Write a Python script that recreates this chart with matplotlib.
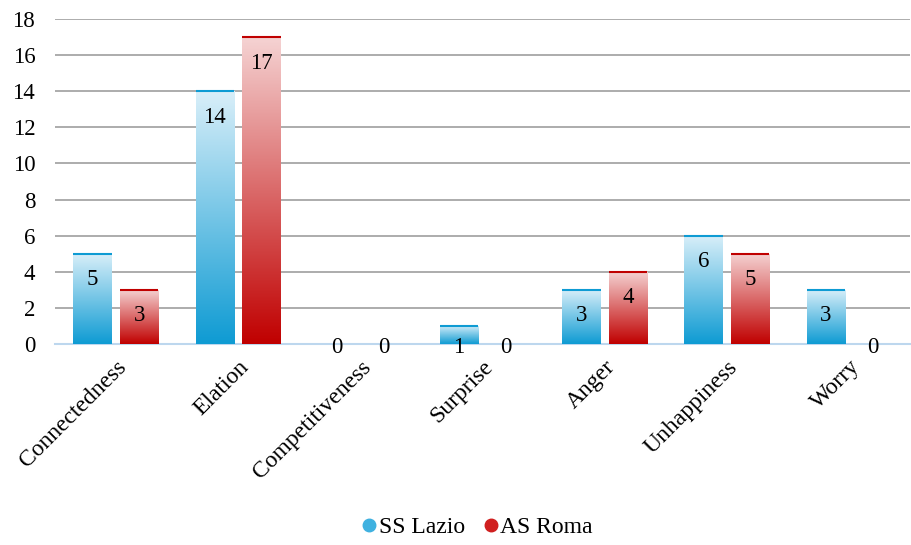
import numpy as np
import matplotlib.pyplot as plt
from matplotlib.colors import LinearSegmentedColormap
from matplotlib.lines import Line2D

plt.rcParams['font.family'] = ['Liberation Serif', 'DejaVu Serif']

# Data
categories = ['Connectedness', 'Elation', 'Competitiveness', 'Surprise',
              'Anger', 'Unhappiness', 'Worry']
lazio = [5, 14, 0, 1, 3, 6, 3]
roma = [3, 17, 0, 0, 4, 5, 0]
series_names = ['SS Lazio', 'AS Roma']

blue_top, blue_bot = '#d9eff9', '#0e9bd3'
red_top, red_bot = '#f5d3d3', '#c00000'

fig = plt.figure(figsize=(9.12, 5.45), dpi=100)
ax = fig.add_axes([0.060, 0.369, 0.938, 0.596])

x = np.arange(len(categories))
width = 0.315
gap = 0.033
offsets = [-(width / 2 + gap), width / 2 + gap]

ax.set_xlim(-0.5, len(categories) - 0.5)
ax.set_ylim(0, 18)

grad = np.linspace(1, 0, 256).reshape(-1, 1)


def draw_bars(vals, off, c_top, c_bot):
    cmap = LinearSegmentedColormap.from_list('g', [c_bot, c_top])
    bars = ax.bar(x + off, vals, width, color='none', edgecolor='none', zorder=3)
    for b, v in zip(bars, vals):
        if v <= 0:
            continue
        x0, w = b.get_x(), b.get_width()
        im = ax.imshow(grad, cmap=cmap, aspect='auto', extent=[x0, x0 + w, 0, v],
                       origin='upper', zorder=3, interpolation='bicubic')
        im.set_clip_path(b)
        # darker rim on the rounded top
        ax.plot([x0, x0 + w], [v, v], color=c_bot, lw=1.5, zorder=4,
                solid_capstyle='butt')
    return bars


draw_bars(lazio, offsets[0], blue_top, blue_bot)
draw_bars(roma, offsets[1], red_top, red_bot)

# value labels inside the bar ends
px_per_unit = (0.596 * 545) / 18
for vals, off in zip([lazio, roma], offsets):
    for xi, v in zip(x, vals):
        h_px = v * px_per_unit
        drop = min(26, h_px + 4)
        ax.annotate(str(v), (xi + off, v), xytext=(0, -drop * 0.72),
                    textcoords='offset points', ha='center', va='center',
                    fontsize=16.5, zorder=5)

ax.set_yticks(np.arange(0, 19, 2))
ax.yaxis.grid(True, color='#a6a6a6', lw=1.3, zorder=0)
ax.set_axisbelow(True)
for s in ['top', 'right', 'left']:
    ax.spines[s].set_visible(False)
ax.spines['bottom'].set_color('#bdd7ee')
ax.spines['bottom'].set_linewidth(1.5)
ax.spines['bottom'].set_zorder(2)
ax.tick_params(axis='y', length=0, pad=14, labelsize=16.5)
ax.tick_params(axis='x', length=0, pad=9, labelsize=17)
ax.set_xticks(x)
ax.set_xticklabels(categories, rotation=45, ha='right', rotation_mode='anchor')

handles = [Line2D([], [], marker='o', ls='none', markersize=9,
                  markerfacecolor=c, markeredgecolor=c)
           for c in ['#3fb1e0', '#d01f1f']]
fig.legend(handles, series_names, loc='center', bbox_to_anchor=(0.521, 0.033),
           ncol=2, frameon=False, fontsize=17, handletextpad=-0.1,
           columnspacing=0.6, handlelength=1.0)

fig.savefig('out.png', dpi=100)
